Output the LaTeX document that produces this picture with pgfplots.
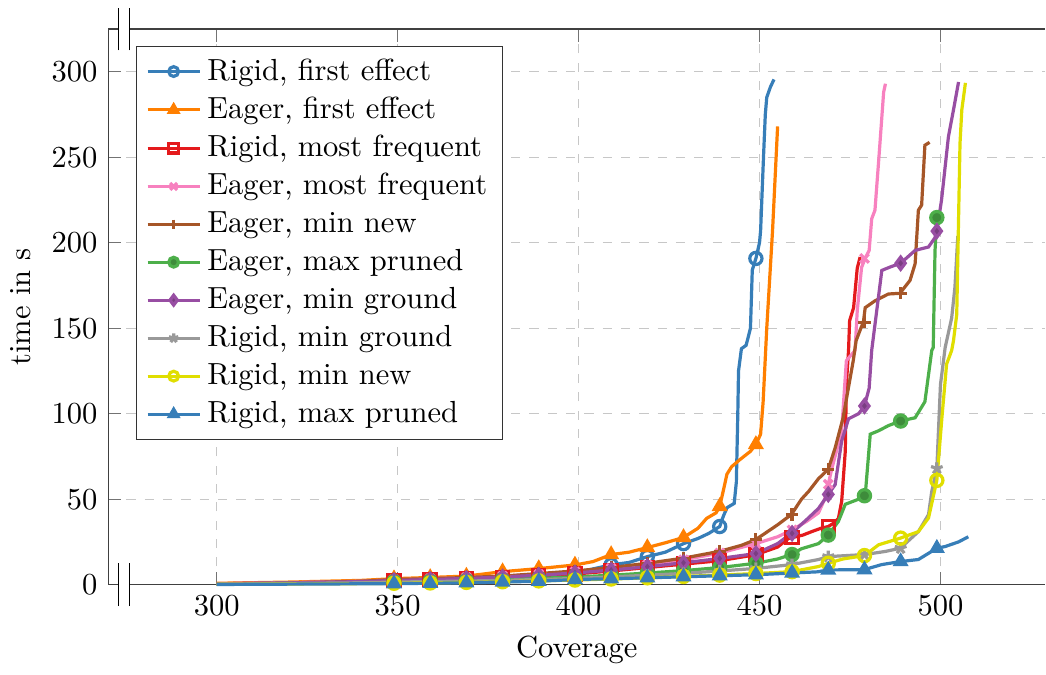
\documentclass[border=0pt]{standalone}
\usepackage{pgfplots}
\pgfplotsset{compat=1.18}
\definecolor{cA}{HTML}{377EB8}
\definecolor{cB}{HTML}{FF7F00}
\definecolor{cC}{HTML}{E41A1C}
\definecolor{cD}{HTML}{F781BF}
\definecolor{cE}{HTML}{A65628}
\definecolor{cF}{HTML}{4DAF4A}
\definecolor{cG}{HTML}{984EA3}
\definecolor{cH}{HTML}{999999}
\definecolor{cI}{RGB}{224,222,0}
\begin{document}
\begin{tikzpicture}
\begin{axis}[
  name=ax,
  scale only axis, width=307pt, height=182pt,
  xmin=270, xmax=529, ymin=0, ymax=325,
  axis x line*=box, axis y line*=left,
  xtick={300,350,400,450,500}, ytick={0,50,100,150,200,250,300},
  grid=major, grid style={dashed, black!22},
  axis line style={black!75}, tick style={black!55},
  xlabel={Coverage}, ylabel={time in s},
  clip=false,
  legend style={at={(0.03,0.97)}, anchor=north west, cells={anchor=west}, draw=black!80},
  mark size=2pt,
  lw/.style={line width=1.05pt},
]
% Rigid, first effect
\addplot[cA, lw, forget plot] coordinates {(300,0.5)(320,0.8)(340,1.2)(349,1.8)(359,2.2)(369,2.8)(379,3.6)(389,5)(399,6.8)(409,11.6)(414,13)(419,16.4)(424,19)(429,24)(433,27)(436,30)(439,34)(440,40)(441,45)(443,47.5)(443.6,60)(444,100)(444.2,125)(445,138)(446.3,140)(447.5,150)(448,184)(449,190.8)(450,200)(450.3,207)(451.1,250)(451.6,275)(452,285)(453,291)(454,295.5)};
\addplot[cA, lw, only marks, mark=o, forget plot] coordinates {(349,1.8)(359,2.2)(369,2.8)(379,3.6)(389,5)(399,6.8)(409,11.6)(419,16.4)(429,24)(439,34)(449,190.8)};
% Eager, first effect
\addplot[cB, lw, forget plot] coordinates {(300,0.8)(320,1.5)(340,2.5)(349,3.5)(359,4.2)(369,5)(379,7.6)(389,9.4)(399,11.5)(404,13.5)(409,17.6)(414,19)(419,21.7)(424,24.5)(429,27.6)(433,33)(435.4,38.8)(438,42)(439,45.8)(440,55)(441,64.6)(442.3,69)(444.5,73)(447.5,78)(449,82)(450.3,88)(451,107)(452,150)(453.6,207)(455,268)};
\addplot[cB, lw, only marks, mark=triangle*, forget plot] coordinates {(349,3.5)(359,4.2)(369,5)(379,7.6)(389,9.4)(399,11.5)(409,17.6)(419,21.7)(429,27.6)(439,45.8)(449,82)};
% Rigid, most frequent
\addplot[cC, lw, forget plot] coordinates {(300,0.5)(320,1)(340,1.8)(349,2.5)(359,3)(369,3.5)(379,4.2)(389,5)(399,6.2)(409,8)(419,10)(429,12)(439,14)(449,17.5)(455,22)(458,27)(462,29)(464.4,31)(467,33)(469,34)(470.5,36)(471.8,38.7)(472.7,48.7)(473.7,78)(474,117)(474.6,137)(474.9,154.4)(476,162)(477,185)(477.8,191.6)};
\addplot[cC, lw, only marks, mark=square, forget plot] coordinates {(349,2.5)(359,3)(369,3.5)(379,4.2)(389,5)(399,6.2)(409,8)(419,10)(429,12)(439,14)(449,17.5)(459,27.5)(469,34)};
% Eager, most frequent
\addplot[cD, lw, forget plot] coordinates {(300,0.6)(320,1.2)(340,2)(349,2.8)(359,3.5)(369,4.2)(379,5)(389,6)(399,7.5)(409,9.5)(419,11.5)(429,14.5)(439,18.5)(449,24)(455,28)(459,32)(463,37)(466.3,42)(468,50)(469,58.7)(470,68)(471.5,80)(472.7,90)(474,131)(476.4,137)(477,160)(478.2,185.5)(479.2,190.8)(480.3,195.5)(481,214)(481.9,219)(483,250)(484.3,288)(484.8,293)};
\addplot[cD, lw, only marks, mark=x, forget plot] coordinates {(349,2.8)(359,3.5)(369,4.2)(379,5)(389,6)(399,7.5)(409,9.5)(419,11.5)(429,14.5)(439,18.5)(449,24)(459,32)(469,58.7)(479,190.8)};
% Eager, min new
\addplot[cE, lw, forget plot] coordinates {(300,0.5)(320,1)(340,2)(349,3)(359,3.5)(369,4.2)(379,5)(389,6.5)(399,8)(409,10)(419,12.5)(429,15.5)(439,19.5)(445,23)(449,26.4)(455,35)(458.8,41)(461.6,50)(463.6,54.6)(466.3,62)(467.8,65)(469,67.5)(470.9,80)(473.1,97.6)(475.9,131)(476.7,142.7)(478,150)(478.7,153.4)(479.2,162)(481.9,166)(485.6,170)(488.8,170.4)(491.6,178)(493,187.7)(493.9,219)(494.8,222)(495.7,257)(497,258.7)};
\addplot[cE, lw, only marks, mark=+, forget plot] coordinates {(349,3)(359,3.5)(369,4.2)(379,5)(389,6.5)(399,8)(409,10)(419,12.5)(429,15.5)(439,19.5)(449,26.4)(459,41)(469,67.5)(479,153.4)(489,170.4)};
% Eager, max pruned
\addplot[cF, lw, forget plot] coordinates {(300,0.3)(320,0.8)(340,1.3)(349,1.8)(359,2.1)(369,2.5)(379,3)(389,3.7)(399,4.5)(409,5.5)(419,6.8)(429,8.2)(439,10)(449,12.5)(455,15)(458.8,17.6)(461.6,21)(466.3,24)(469,29)(471.8,37)(473.7,47)(477.4,50)(479.2,52)(480.6,88)(482.9,90)(485.6,93)(488.9,95.7)(493,97.6)(495.7,107)(497.6,137)(498,138.7)(498.5,195.5)(499,214.7)};
\addplot[cF, lw, only marks, mark=*, mark options={fill=cF!80!black}, forget plot] coordinates {(349,1.8)(359,2.1)(369,2.5)(379,3)(389,3.7)(399,4.5)(409,5.5)(419,6.8)(429,8.2)(439,10)(449,12.5)(459,17.6)(469,29)(479,52)(489,95.7)(499,214.7)};
% Eager, min ground
\addplot[cG, lw, forget plot] coordinates {(300,0.4)(320,1)(340,1.8)(349,2.4)(359,3)(369,3.6)(379,4.5)(389,5.5)(399,6.8)(409,8.5)(419,10.5)(429,12.8)(439,15.3)(449,18.2)(455,24)(458.8,30)(463,38)(466.3,44.6)(469,52.8)(470.9,58.5)(472.7,84)(474.6,97)(477.4,100)(479,104.5)(480.3,115)(481,137)(483.8,183.8)(486,185.7)(489,188)(493,195.5)(496.7,197.5)(498.5,203)(499,206.8)(500.3,225)(502.2,262)(503.6,277.7)(505,294)};
\addplot[cG, lw, only marks, mark=diamond*, mark options={fill=cG!80!black}, forget plot] coordinates {(349,2.4)(359,3)(369,3.6)(379,4.5)(389,5.5)(399,6.8)(409,8.5)(419,10.5)(429,12.8)(439,15.3)(449,18.2)(459,30)(469,52.8)(479,104.5)(489,188)(499,206.8)};
% Rigid, min ground
\addplot[cH, lw, forget plot] coordinates {(300,0.3)(320,0.7)(340,1.1)(349,1.5)(359,1.8)(369,2.1)(379,2.5)(389,3)(399,3.6)(409,4.5)(419,5.5)(429,6.6)(439,8)(449,9.5)(458.8,11.7)(466.3,14.7)(469,16.4)(479,17.6)(484.7,19.4)(488.9,21.3)(493.9,31)(496.7,41)(497.6,54.6)(499,68)(500,117)(501.3,138.7)(503.1,156)(504,174)(504.8,204)};
\addplot[cH, lw, only marks, mark=star, forget plot] coordinates {(349,1.5)(359,1.8)(369,2.1)(379,2.5)(389,3)(399,3.6)(409,4.5)(419,5.5)(429,6.6)(439,8)(449,9.5)(459,11.7)(469,16.4)(479,17.6)(489,21.3)(499,68)};
% Rigid, min new
\addplot[cI, lw, forget plot] coordinates {(300,0.2)(320,0.4)(340,0.6)(349,0.8)(359,1)(369,1.3)(379,1.7)(389,2.2)(399,2.7)(409,3.3)(419,4)(429,4.8)(439,5.6)(449,6.5)(459,7.6)(466.3,10.6)(469,12.5)(473,15)(479,17)(482.9,23.3)(488.9,27.2)(493.9,31)(496.7,39)(499,61)(500.4,97.6)(501.7,129)(503.1,137)(503.6,142.7)(504.5,158)(505.4,258)(505.9,277.7)(506.9,293.5)};
\addplot[cI, lw, only marks, mark=o, forget plot] coordinates {(349,0.8)(359,1)(369,1.3)(379,1.7)(389,2.2)(399,2.7)(409,3.3)(419,4)(429,4.8)(439,5.6)(449,6.5)(459,7.6)(469,12.5)(479,17)(489,27.2)(499,61)};
% Rigid, max pruned
\addplot[cA, lw, forget plot] coordinates {(300,0.1)(320,0.3)(340,0.5)(349,0.6)(359,0.8)(369,1.1)(379,1.5)(389,2)(399,3)(409,3.5)(419,4)(429,4.6)(439,5.2)(449,5.8)(459,6.8)(466,7.5)(469,8.6)(479,8.8)(483.7,11.7)(488.9,13.5)(493.9,14.7)(499,21.3)(501.3,22.3)(505,25)(507.7,28)};
\addplot[cA, lw, only marks, mark=triangle*, forget plot] coordinates {(349,0.6)(359,0.8)(369,1.1)(379,1.5)(389,2)(399,3)(409,3.5)(419,4)(429,4.6)(439,5.2)(449,5.8)(459,6.8)(469,8.6)(479,8.8)(489,13.5)(499,21.3)};
% legend
\addlegendimage{cA, lw, mark=o, mark size=1.6pt}
\addlegendentry{Rigid, first effect}
\addlegendimage{cB, lw, mark=triangle*, mark size=1.6pt}
\addlegendentry{Eager, first effect}
\addlegendimage{cC, lw, mark=square, mark size=1.6pt}
\addlegendentry{Rigid, most frequent}
\addlegendimage{cD, lw, mark=x, mark size=1.6pt}
\addlegendentry{Eager, most frequent}
\addlegendimage{cE, lw, mark=+, mark size=1.6pt}
\addlegendentry{Eager, min new}
\addlegendimage{cF, lw, mark=*, mark size=1.6pt, mark options={fill=cF!80!black}}
\addlegendentry{Eager, max pruned}
\addlegendimage{cG, lw, mark=diamond*, mark size=1.6pt, mark options={fill=cG!80!black}}
\addlegendentry{Eager, min ground}
\addlegendimage{cH, lw, mark=star, mark size=1.6pt}
\addlegendentry{Rigid, min ground}
\addlegendimage{cI, lw, mark=o, mark size=1.6pt}
\addlegendentry{Rigid, min new}
\addlegendimage{cA, lw, mark=triangle*, mark size=1.6pt}
\addlegendentry{Rigid, max pruned}
\end{axis}
% axis break marks
\fill[white] ([xshift=3.7pt,yshift=-1.5pt]ax.north west) rectangle ([xshift=6.7pt,yshift=1.5pt]ax.north west);
\fill[white] ([xshift=3.7pt,yshift=-1.5pt]ax.south west) rectangle ([xshift=6.7pt,yshift=1.5pt]ax.south west);
\foreach \s in {3.4pt,7.0pt}{
  \draw[black] ([xshift=\s,yshift=-7pt]ax.north west) -- ([xshift=\s,yshift=7pt]ax.north west);
  \draw[black] ([xshift=\s,yshift=-7pt]ax.south west) -- ([xshift=\s,yshift=7pt]ax.south west);
}
\path ([yshift=9.5pt]ax.north west);
\end{tikzpicture}
\end{document}
